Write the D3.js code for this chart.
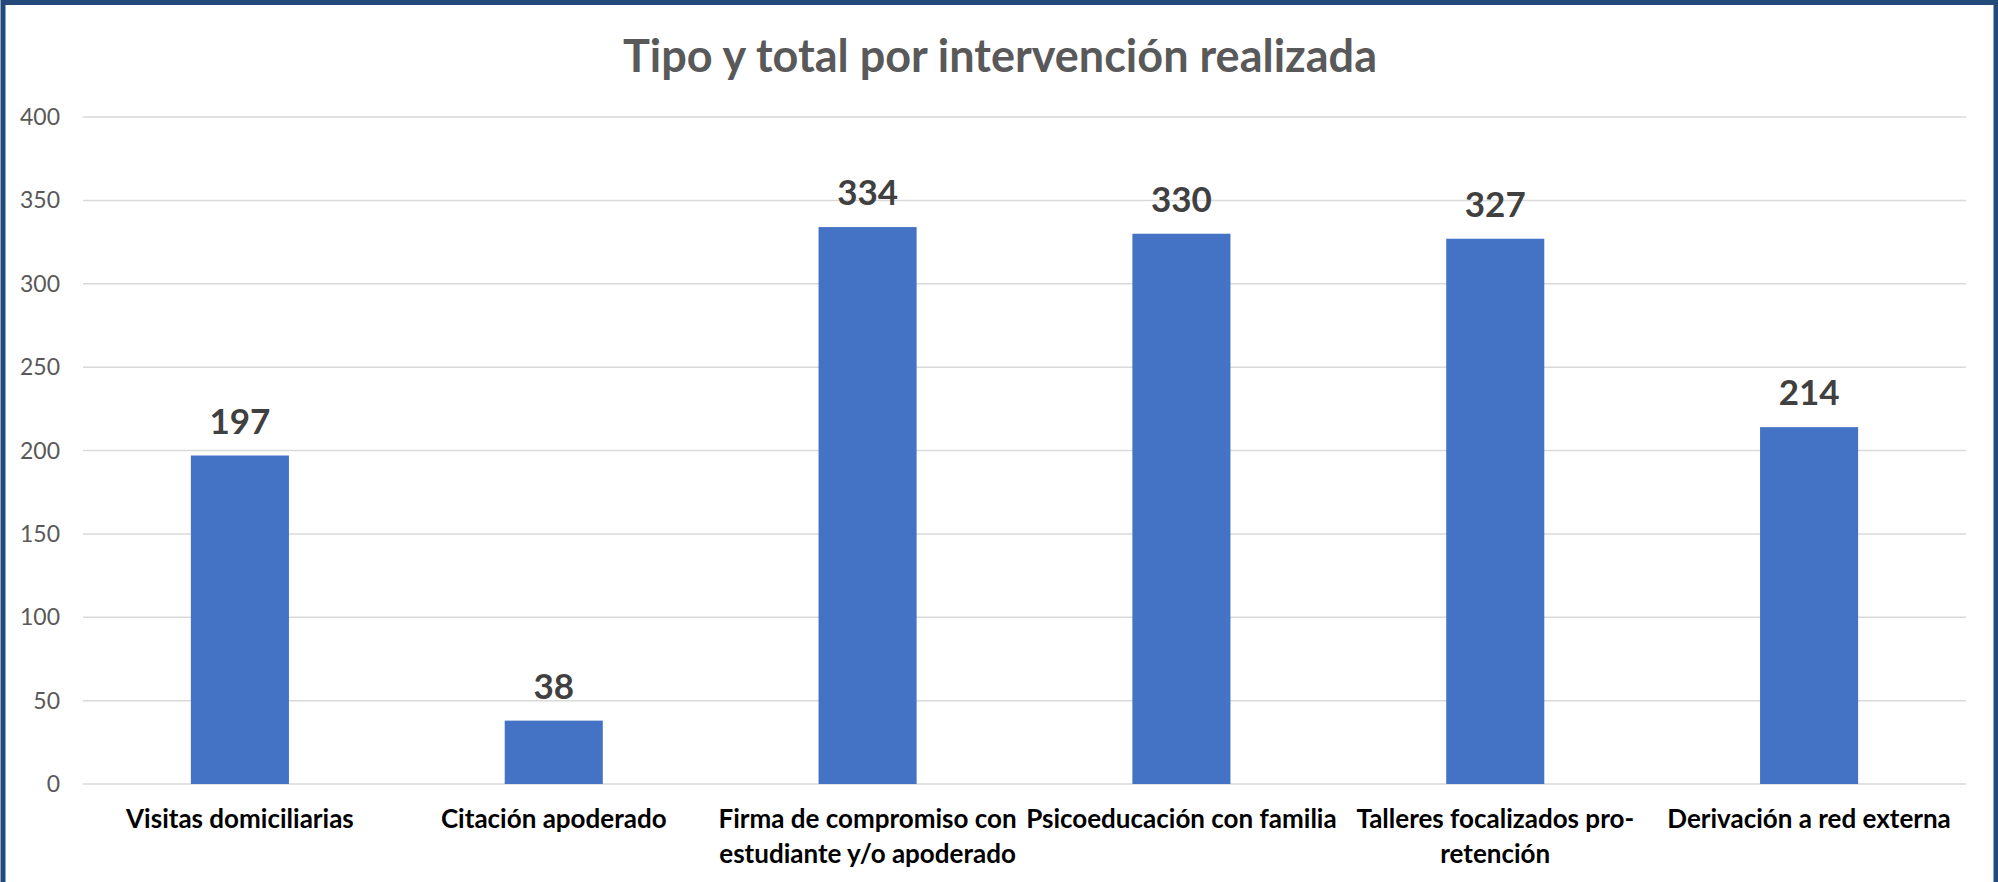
<!DOCTYPE html>
<html>
<head>
<meta charset="utf-8">
<script src="https://cdn.jsdelivr.net/npm/d3@7"></script>
<style>
  body { margin: 0; background: #fff; }
  svg { display: block; }
</style>
</head>
<body>
<div id="vis"></div>
<script>
var categories = [
  'Visitas domiciliarias',
  'Citación apoderado',
  'Firma de compromiso con estudiante y/o apoderado',
  'Psicoeducación con familia',
  'Talleres focalizados pro-retención',
  'Derivación a red externa'
];
var totals = [197, 38, 334, 330, 327, 214];
var yTicks = [0, 50, 100, 150, 200, 250, 300, 350, 400];
var title = 'Tipo y total por intervención realizada';

var width = 1998,
    height = 882,
    font = 'Lato, Carlito, Calibri, sans-serif';

var svg = d3.select('#vis')
  .append('svg')
    .attr('width', width)
    .attr('height', height);

// frame
svg.append('rect')
  .attr('x', 3).attr('y', 2.5)
  .attr('width', width - 5).attr('height', height + 20)
  .attr('fill', '#fff')
  .attr('stroke', '#234a7b')
  .attr('stroke-width', 5);

var xScale = d3.scaleBand()
  .domain(categories)
  .range([83, 1966])
  .paddingInner(2.2 / 3.2)
  .paddingOuter(1.1 / 3.2);

var yScale = d3.scaleLinear()
  .domain([0, 400])
  .range([784, 117]);

svg.append('text')
  .attr('x', 1000)
  .attr('y', 72)
  .attr('text-anchor', 'middle')
  .style('font-family', font)
  .style('font-weight', 'bold')
  .style('font-size', '45px')
  .style('fill', '#595959')
  .text(title);

// gridlines + y labels
svg.append('g')
  .selectAll('line')
  .data(yTicks)
  .enter()
  .append('line')
    .attr('x1', 83).attr('x2', 1966)
    .attr('y1', function(d) { return yScale(d); })
    .attr('y2', function(d) { return yScale(d); })
    .attr('stroke', '#d9d9d9')
    .attr('stroke-width', 1.5);

svg.append('g')
  .selectAll('text')
  .data(yTicks)
  .enter()
  .append('text')
    .attr('x', 60)
    .attr('y', function(d) { return yScale(d); })
    .attr('dy', '0.35em')
    .attr('text-anchor', 'end')
    .style('font-family', font)
    .style('font-size', '23px')
    .style('fill', '#595959')
    .text(function(d) { return d; });

var data = categories.map(function(c, i) { return { cat: c, value: totals[i] }; });

svg.append('g')
  .selectAll('rect')
  .data(data)
  .enter()
  .append('rect')
    .attr('x', function(d) { return xScale(d.cat); })
    .attr('width', xScale.bandwidth())
    .attr('y', function(d) { return yScale(d.value); })
    .attr('height', function(d) { return yScale(0) - yScale(d.value); })
    .style('fill', '#4472c4');

svg.append('g')
  .selectAll('text')
  .data(data)
  .enter()
  .append('text')
    .attr('x', function(d) { return xScale(d.cat) + xScale.bandwidth() / 2; })
    .attr('y', function(d) { return yScale(d.value) - 22; })
    .attr('text-anchor', 'middle')
    .style('font-family', font)
    .style('font-weight', 'bold')
    .style('font-size', '35px')
    .style('fill', '#404040')
    .text(function(d) { return d.value; });

// category labels, wrapped to the category width
var labels = svg.append('g')
  .selectAll('text')
  .data(categories)
  .enter()
  .append('text')
    .attr('text-anchor', 'middle')
    .style('font-family', font)
    .style('font-weight', 'bold')
    .style('font-size', '26px')
    .style('fill', '#000');

labels.each(function(d) {
  var el = d3.select(this);
  var cx = xScale(d) + xScale.bandwidth() / 2;
  var words = d.replace(/-/g, '- ').split(' ').filter(function(w) { return w; });
  var lines = [], line = '';
  var probe = el.append('tspan');
  words.forEach(function(w) {
    var join = line === '' ? w : (/-$/.test(line) ? line + w : line + ' ' + w);
    probe.text(join);
    if (line !== '' && probe.node().getComputedTextLength() > xScale.step() + 15) {
      lines.push(line);
      line = w;
    } else {
      line = join;
    }
  });
  lines.push(line);
  probe.remove();
  lines.forEach(function(l, i) {
    el.append('tspan')
      .attr('x', cx)
      .attr('y', 828 + i * 35)
      .text(l);
  });
});
</script>
</body>
</html>
